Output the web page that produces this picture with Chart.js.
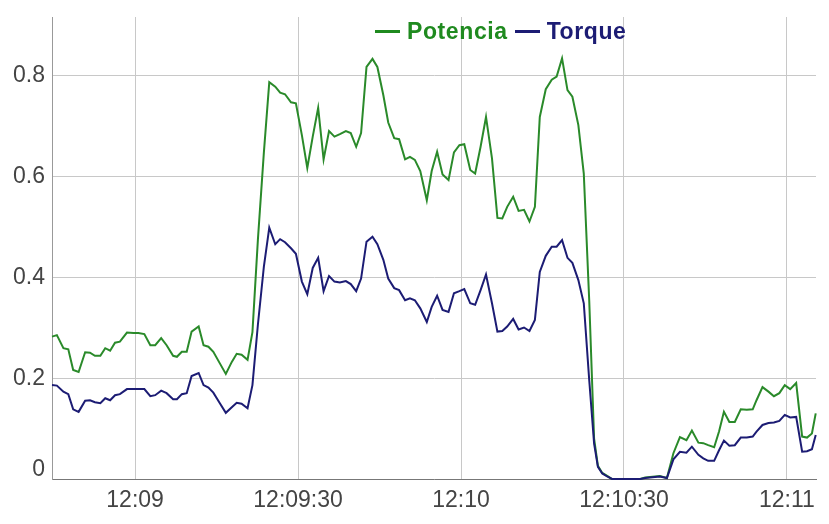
<!DOCTYPE html>
<html>
<head>
<meta charset="utf-8">
<script src="https://cdn.jsdelivr.net/npm/chart.js@4.4.1/dist/chart.umd.min.js"></script>
<style>
  body { margin: 0; background: #fff; }
  #wrap { position: relative; width: 829px; height: 524px; }
  .legend {
    position: absolute; left: 375px; top: 18px;
    display: flex; align-items: center;
    font: bold 23px Arial, "Liberation Sans", sans-serif;
    letter-spacing: 0.6px; line-height: 26px; white-space: nowrap;
  }
  .legend .line { display: inline-block; width: 25px; height: 3px; margin-right: 7px; }
  .legend .pot { color: #1f8a1f; margin-right: 7px; }
  .legend .tor { color: #1c1c74; }
</style>
</head>
<body>
<div id="wrap">
  <canvas id="chart" width="829" height="524"></canvas>
  <div class="legend">
    <span class="line" style="background:#1f8a1f"></span><span class="pot">Potencia</span>
    <span class="line" style="background:#1c1c74"></span><span class="tor">Torque</span>
  </div>
</div>
<script>
// seconds since 12:00:00
const times = [
  524.7, 525.6, 526.8, 527.7, 528.6, 529.6, 530.8, 531.7, 532.6, 533.6, 534.5, 535.4, 536.3, 537.2, 538.5, 539.7,
  540.6, 541.7, 542.8, 543.7, 544.8, 545.8, 547.0, 547.7, 548.6, 549.5, 550.4, 551.7, 552.6, 553.5, 554.4, 555.6,
  556.7, 557.8, 558.7, 559.6, 560.7, 561.6, 562.6, 563.7,
  564.7, 565.8, 566.7, 567.6, 568.7, 569.6, 570.7, 571.7, 572.7, 573.7, 574.7, 575.7, 576.7, 577.7, 578.8, 579.7,
  580.7, 581.6, 582.6, 583.7, 584.6, 585.7, 586.6, 587.7, 588.6, 589.7, 590.6, 591.5, 592.5, 593.7, 594.6, 595.6,
  596.6, 597.7, 598.7, 599.7,
  600.6, 601.7, 602.6, 603.6, 604.6, 605.7, 606.7, 607.6, 608.5, 609.6, 610.6, 611.6, 612.6, 613.6, 614.5, 615.6,
  616.7, 617.6, 618.6, 619.6, 620.5, 621.6, 622.6,
  623.6, 624.5, 625.2, 626.0, 626.9, 627.8, 633.0, 633.9, 636.6, 637.9,
  639.1, 640.3, 641.5, 642.5, 643.7, 644.6, 645.5, 646.6, 647.5, 648.4, 649.4, 650.4, 651.5, 652.6, 653.7, 654.4,
  655.5, 656.6, 657.6, 658.6, 659.6, 660.6, 661.7, 662.8, 663.7, 664.6, 665.3
];

const potencia = [
  0.282, 0.285, 0.259, 0.257, 0.216, 0.212, 0.251, 0.250, 0.244, 0.244, 0.259, 0.254, 0.270, 0.272, 0.290, 0.289,
  0.289, 0.287, 0.265, 0.265, 0.279, 0.265, 0.244, 0.242, 0.252, 0.252, 0.292, 0.302, 0.265, 0.262, 0.252, 0.229,
  0.208, 0.232, 0.248, 0.246, 0.236, 0.291, 0.473, 0.646,
  0.786, 0.777, 0.765, 0.762, 0.746, 0.744, 0.681, 0.616, 0.678, 0.735, 0.633, 0.689, 0.678, 0.683, 0.689, 0.685,
  0.658, 0.685, 0.816, 0.832, 0.816, 0.760, 0.706, 0.675, 0.673, 0.633, 0.638, 0.632, 0.610, 0.552, 0.610, 0.648,
  0.603, 0.592, 0.647, 0.661,
  0.663, 0.612, 0.605, 0.658, 0.717, 0.635, 0.517, 0.516, 0.539, 0.559, 0.531, 0.533, 0.510, 0.539, 0.717, 0.772,
  0.791, 0.797, 0.833, 0.770, 0.757, 0.701, 0.605,
  0.354, 0.080, 0.026, 0.012, 0.006, 0, 0, 0.003, 0.006, 0.002,
  0.051, 0.083, 0.077, 0.096, 0.072, 0.071, 0.067, 0.063, 0.094, 0.133, 0.113, 0.113, 0.138, 0.137, 0.138, 0.156,
  0.182, 0.173, 0.164, 0.170, 0.186, 0.178, 0.190, 0.084, 0.082, 0.090, 0.130
];

const torque = [
  0.186, 0.185, 0.173, 0.168, 0.138, 0.133, 0.155, 0.156, 0.152, 0.150, 0.160, 0.156, 0.166, 0.168, 0.178, 0.178,
  0.178, 0.178, 0.164, 0.166, 0.175, 0.170, 0.158, 0.158, 0.168, 0.170, 0.204, 0.210, 0.186, 0.181, 0.171, 0.150,
  0.131, 0.142, 0.151, 0.149, 0.140, 0.186, 0.305, 0.420,
  0.498, 0.465, 0.475, 0.469, 0.457, 0.446, 0.391, 0.366, 0.418, 0.438, 0.372, 0.402, 0.391, 0.389, 0.392, 0.386,
  0.372, 0.397, 0.470, 0.480, 0.465, 0.434, 0.397, 0.378, 0.374, 0.354, 0.358, 0.354, 0.338, 0.311, 0.341, 0.363,
  0.335, 0.331, 0.368, 0.372,
  0.376, 0.348, 0.345, 0.374, 0.405, 0.348, 0.292, 0.293, 0.302, 0.317, 0.296, 0.300, 0.293, 0.315, 0.410, 0.442,
  0.460, 0.460, 0.473, 0.438, 0.428, 0.394, 0.348,
  0.196, 0.070, 0.024, 0.011, 0.005, 0, 0, 0.002, 0.005, 0.002,
  0.039, 0.054, 0.052, 0.064, 0.048, 0.041, 0.036, 0.036, 0.057, 0.076, 0.066, 0.067, 0.082, 0.082, 0.084, 0.094,
  0.107, 0.111, 0.112, 0.115, 0.127, 0.122, 0.123, 0.054, 0.055, 0.059, 0.087
];

const xTicks = [540, 570, 600, 630, 660];
const xTickLabels = ['12:09', '12:09:30', '12:10', '12:10:30', '12:11'];
const yTicks = [0, 0.2, 0.4, 0.6, 0.8];
const yTickLabels = ['0', '0.2', '0.4', '0.6', '0.8'];

const FONT = 'Arial, "Liberation Sans", sans-serif';

function points(values) {
  return times.map((t, i) => ({ x: t, y: values[i] }));
}

// y labels drawn by hand so the "0" can sit above the axis like the original
const yLabels = {
  id: 'yLabels',
  afterDraw(chart) {
    const scale = chart.scales.y;
    const ctx = chart.ctx;
    ctx.save();
    ctx.font = '23px ' + FONT;
    ctx.fillStyle = '#444';
    ctx.textAlign = 'right';
    ctx.textBaseline = 'middle';
    yTicks.forEach((v, i) => {
      let py = scale.getPixelForValue(v);
      if (v === 0) py -= 10;
      ctx.fillText(yTickLabels[i], scale.right - 7, py + 1);
    });
    ctx.restore();
  }
};

new Chart(document.getElementById('chart'), {
  type: 'line',
  data: {
    datasets: [
      {
        label: 'Torque',
        data: points(torque),
        borderColor: '#1c1c74',
        borderWidth: 2,
        order: 0
      },
      {
        label: 'Potencia',
        data: points(potencia),
        borderColor: '#2a8a2a',
        borderWidth: 2,
        order: 1
      }
    ]
  },
  options: {
    responsive: false,
    animation: false,
    devicePixelRatio: 1,
    layout: { padding: { top: 17, right: 13, left: 0, bottom: 0 } },
    elements: {
      point: { radius: 0 },
      line: { tension: 0, fill: false }
    },
    datasets: { line: { clip: false } },
    plugins: {
      legend: { display: false },
      tooltip: { enabled: false }
    },
    scales: {
      x: {
        type: 'linear',
        min: 524.7,
        max: 665.35,
        afterBuildTicks: scale => { scale.ticks = xTicks.map(v => ({ value: v })); },
        afterFit: scale => { scale.height = 45; },
        grid: { color: '#c8c8c8', lineWidth: 1, drawTicks: false },
        border: { color: '#777', width: 1 },
        ticks: {
          padding: 8,
          color: '#444',
          font: { family: FONT, size: 23 },
          maxRotation: 0,
          callback: (value, index) => xTickLabels[index]
        }
      },
      y: {
        min: 0,
        max: 0.915,
        afterBuildTicks: scale => { scale.ticks = yTicks.map(v => ({ value: v })); },
        afterFit: scale => { scale.width = 52; },
        grid: { color: '#c8c8c8', lineWidth: 1, drawTicks: false },
        border: { color: '#999', width: 1 },
        ticks: { display: false }
      }
    }
  },
  plugins: [yLabels]
});
</script>
</body>
</html>
